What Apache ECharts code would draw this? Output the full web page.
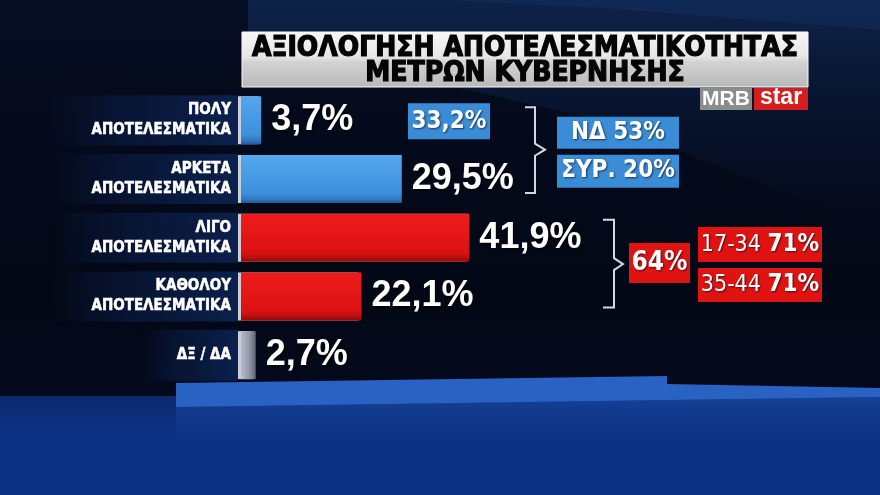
<!DOCTYPE html>
<html><head><meta charset="utf-8">
<script src="https://cdn.jsdelivr.net/npm/echarts@6/dist/echarts.min.js"></script>
<style>html,body{margin:0;padding:0;background:#030816;}#c{width:880px;height:495px;}</style>
</head><body><div id="c"></div>
<script>
const categories = ['ΠΟΛΥ\nΑΠΟΤΕΛΕΣΜΑΤΙΚΑ', 'ΑΡΚΕΤΑ\nΑΠΟΤΕΛΕΣΜΑΤΙΚΑ', 'ΛΙΓΟ\nΑΠΟΤΕΛΕΣΜΑΤΙΚΑ', 'ΚΑΘΟΛΟΥ\nΑΠΟΤΕΛΕΣΜΑΤΙΚΑ', 'ΔΞ / ΔΑ'];
const values = [3.7, 29.5, 41.9, 22.1, 2.7];
const barKinds = ['blue', 'blue', 'red', 'red', 'gray'];
const titleLines = ['ΑΞΙΟΛΟΓΗΣΗ ΑΠΟΤΕΛΕΣΜΑΤΙΚΟΤΗΤΑΣ', 'ΜΕΤΡΩΝ ΚΥΒΕΡΝΗΣΗΣ'];
const positiveTotal = '33,2%';
const positiveParties = ['ΝΔ 53%', 'ΣΥΡ. 20%'];
const negativeTotal = '64%';
const negativeAges = [['17-34', '71%'], ['35-44', '71%']];
const logoParts = ['MRB', 'star'];

const NARROW = "'Liberation Sans Narrow','DejaVu Sans Condensed','Roboto Condensed',sans-serif";
const WIDE = "'Liberation Sans',Arial,sans-serif";

function grad(x, y, x2, y2, stops) {
  return new echarts.graphic.LinearGradient(x, y, x2, y2, stops.map((c) => ({offset: c[0], color: c[1]})));
}
const fills = {
  blue: grad(0, 0, 0, 1, [[0, '#55a7ee'], [0.8, '#3c8fdb'], [0.92, '#2f78c0'], [1, '#22599a']]),
  red: grad(0, 0, 0, 1, [[0, '#ee1c1c'], [0.8, '#dc1212'], [0.92, '#b80e0e'], [1, '#8e0a0a']]),
  gray: grad(0, 0, 1, 0, [[0, '#b7bfcd'], [0.6, '#8d95a6'], [1, '#5d6474']])
};
const labelBg = grad(0, 0, 1, 0, [[0, 'rgba(14,40,95,0)'], [0.35, 'rgba(14,40,95,0.35)'], [1, 'rgba(16,48,110,0.6)']]);

const chart = echarts.init(document.getElementById('c'));

const background = [
  {type: 'rect', z: -100, silent: true, shape: {x: 0, y: 0, width: 880, height: 495},
    style: {fill: grad(0, 0, 0, 1, [[0, '#050d20'], [0.3, '#040a1b'], [0.6, '#030816'], [0.78, '#040a1c'], [1, '#061430']])}},
  {type: 'polygon', z: -99, silent: true, shape: {points: [[248, 0], [880, 0], [880, 230], [600, 120], [248, 40]]},
    style: {fill: grad(0, 0, 0, 1, [[0, 'rgba(16,38,80,0.85)'], [1, 'rgba(10,24,54,0)']])}},
  {type: 'polygon', z: -99, silent: true, shape: {points: [[440, 0], [880, 0], [880, 30], [600, 8]]},
    style: {fill: 'rgba(30,70,140,0.18)'}},
  {type: 'rect', z: -98, silent: true, shape: {x: 0, y: 396, width: 880, height: 99},
    style: {fill: grad(0, 0, 0, 1, [[0, '#0a2a6c'], [0.35, '#0c3282'], [1, '#0b3184']])}},
  {type: 'polygon', z: -97, silent: true, shape: {points: [[176, 407], [880, 397], [880, 440], [176, 445]]},
    style: {fill: grad(0, 0, 0, 1, [[0, 'rgba(25,75,170,0.7)'], [1, 'rgba(20,60,150,0)']])}},
  {type: 'polygon', z: -96, silent: true, shape: {points: [[176, 383], [667, 376], [667, 384], [880, 388], [880, 397], [176, 407]]},
    style: {fill: '#2a62c3'}},
  {type: 'rect', z: -95, silent: true, shape: {x: 242, y: 32, width: 566, height: 55},
    style: {fill: grad(0, 0, 0, 1, [[0, '#f7f7f7'], [0.45, '#e6e6e6'], [0.55, '#d2d2d2'], [1, '#b9b9b9']]), stroke: '#fafafa', lineWidth: 1}},
  {type: 'rect', z: 50, silent: true, shape: {x: 700, y: 88, width: 52, height: 22}, style: {fill: '#8c8c8c'}},
  {type: 'rect', z: 50, silent: true, shape: {x: 754, y: 88, width: 54, height: 22}, style: {fill: '#d61e1e'}},
  {type: 'text', z: 51, silent: true, x: 726, y: 99, style: {text: logoParts[0], fill: '#fff', font: "bold 21px " + WIDE, align: 'center', verticalAlign: 'middle'}},
  {type: 'text', z: 51, silent: true, x: 781, y: 98, style: {text: logoParts[1], fill: '#fff', font: "bold 23px " + WIDE, align: 'center', verticalAlign: 'middle'}}
];

chart.setOption({
  animation: false,
  backgroundColor: '#030816',
  title: {
    text: titleLines.join('\n'), left: 525, top: 36, padding: 0, textAlign: 'center',
    textStyle: {fontFamily: NARROW, fontWeight: 'bold', fontSize: 28, lineHeight: 25, color: '#050505',
      textBorderColor: '#050505', textBorderWidth: 1.2}
  },
  grid: {left: 241, top: 91, width: 545, height: 293.5, containLabel: false},
  xAxis: {type: 'value', min: 0, max: 100, show: false},
  yAxis: {
    type: 'category', inverse: true,
    data: categories.map((c, i) => ({value: c, textStyle: i === 4 ? {padding: [15, 7, 16, 36]} : {}})),
    axisLine: {show: false},
    axisTick: {show: false},
    splitLine: {show: false},
    axisLabel: {
      color: '#ffffff', fontFamily: NARROW, fontWeight: 'bold', fontSize: 15, lineHeight: 20,
      align: 'right', margin: 3, padding: [5, 7, 5, 40],
      textBorderColor: '#ffffff', textBorderWidth: 0.5,
      backgroundColor: labelBg
    }
  },
  series: [{
    type: 'bar', barWidth: 48,
    data: values.map((v, i) => ({value: v, itemStyle: {color: fills[barKinds[i]]}})),
    itemStyle: {shadowColor: '#c9ced8', shadowBlur: 0, shadowOffsetX: -3, shadowOffsetY: 0},
    label: {
      show: true, position: 'right', distance: 10,
      formatter: p => String(p.value).replace('.', ',') + '%',
      color: '#ffffff', fontFamily: WIDE, fontWeight: 'bold', fontSize: 36,
      textShadowColor: 'rgba(0,0,0,0.7)', textShadowBlur: 3, textShadowOffsetX: 2, textShadowOffsetY: 2
    }
  }],
  graphic: {elements: background}
});

// annotations anchored to category positions computed by the axis
const yc = categories.map((c, i) => chart.convertToPixel({yAxisIndex: 0}, i));
const m1 = (yc[0] + yc[1]) / 2, m2 = (yc[2] + yc[3]) / 2;
const BLUE = '#3a8cd7', RED = '#e01313', BR = '#d5d8de';
const shadow = {textShadowColor: 'rgba(0,0,0,0.6)', textShadowBlur: 2, textShadowOffsetX: 1, textShadowOffsetY: 1};
function box(x, y, w, h, fill) {
  return {type: 'rect', z: 60, silent: true, shape: {x, y, width: w, height: h}, style: {fill}};
}
function label(x, y, text, size, extra) {
  return {type: 'text', z: 61, silent: true, x, y,
    style: Object.assign({text, fill: '#fff', font: 'bold ' + size + 'px ' + NARROW, align: 'center', verticalAlign: 'middle'}, shadow, extra || {})};
}
function ageText(x, y, pair) {
  return {type: 'text', z: 61, silent: true, x, y, style: Object.assign({
    text: '{a|' + pair[0] + ' }{b|' + pair[1] + '}', align: 'center', verticalAlign: 'middle',
    rich: {a: {fill: '#fff', font: '23px ' + NARROW}, b: {fill: '#fff', font: 'bold 24px ' + NARROW}}}, shadow)};
}
const ann = [
  box(408, yc[0] - 17, 82, 36, BLUE), label(449, yc[0] + 1, positiveTotal, 24),
  {type: 'polyline', z: 60, silent: true, shape: {points: [[525, yc[0] - 13], [535, yc[0] - 13], [535, m1 - 6], [545, m1], [535, m1 + 6], [535, yc[1] + 14], [525, yc[1] + 14]]},
    style: {stroke: BR, lineWidth: 2, fill: null}},
  box(557, m1 - 33, 122, 32, BLUE), label(618, m1 - 17, positiveParties[0], 24),
  box(557, m1 + 5, 122, 33, BLUE), label(618, m1 + 21.5, positiveParties[1], 24),
  {type: 'polyline', z: 60, silent: true, shape: {points: [[603, yc[2] - 18], [614, yc[2] - 18], [614, m2 - 9], [623, m2 - 3], [614, m2 + 3], [614, yc[3] + 11], [603, yc[3] + 11]]},
    style: {stroke: BR, lineWidth: 2, fill: null}},
  box(629, m2 - 24, 61, 40, RED), label(659.5, m2 - 4, negativeTotal, 26),
  box(698, m2 - 40, 124, 35, RED), ageText(760, m2 - 22.5, negativeAges[0]),
  box(698, m2 + 1, 124, 34, RED), ageText(760, m2 + 18, negativeAges[1])
];
chart.setOption({graphic: {elements: background.concat(ann)}});
</script>
</body></html>
